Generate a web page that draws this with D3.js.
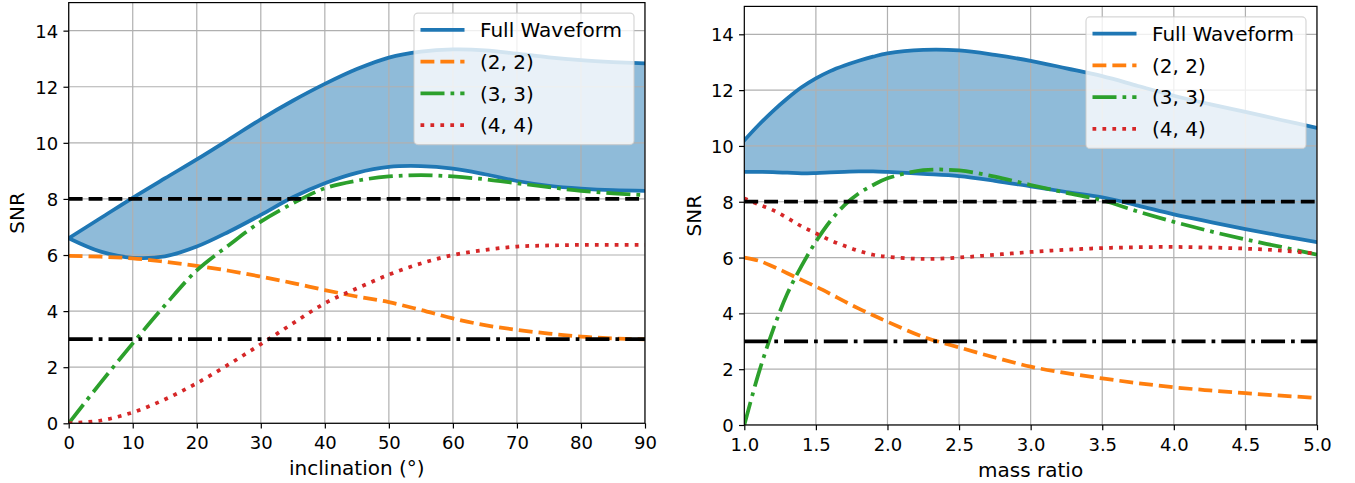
<!DOCTYPE html>
<html>
<head>
<meta charset="utf-8">
<script src="https://cdn.jsdelivr.net/npm/d3@7"></script>
<style>
  html, body { margin: 0; padding: 0; background: #ffffff; }
  svg { display: block; font-family: "DejaVu Sans", sans-serif; }
</style>
</head>
<body>
<svg id="chart" width="1355" height="483"></svg>
<script>
// ---- SNR vs inclination (left panel) ----
const inclination = [0, 5, 10, 15, 20, 25, 30, 35, 40, 45, 50, 55, 60, 65, 70, 75, 80, 85, 90];
const incFullUpper = [6.6, 7.32, 8.04, 8.73, 9.41, 10.12, 10.84, 11.5, 12.1, 12.63, 13.04, 13.25, 13.33, 13.3, 13.18, 13.05, 12.95, 12.88, 12.83];
const incFullLower = [6.6, 6.12, 5.9, 5.95, 6.3, 6.83, 7.43, 8.06, 8.56, 8.93, 9.14, 9.17, 9.08, 8.88, 8.64, 8.47, 8.37, 8.31, 8.29];
const incMode22 = [5.97, 5.94, 5.88, 5.76, 5.61, 5.44, 5.23, 5.0, 4.75, 4.52, 4.32, 4.04, 3.74, 3.5, 3.33, 3.2, 3.09, 3.03, 2.99];
const incMode33 = [0, 1.45, 2.85, 4.2, 5.45, 6.35, 7.19, 7.84, 8.38, 8.65, 8.8, 8.85, 8.8, 8.7, 8.56, 8.42, 8.29, 8.2, 8.14];
const incMode44 = [0, 0.1, 0.39, 0.85, 1.43, 2.1, 2.82, 3.56, 4.28, 4.81, 5.3, 5.7, 6.0, 6.18, 6.3, 6.34, 6.36, 6.36, 6.36];

// ---- SNR vs mass ratio (right panel) ----
const massRatio = [1.0, 1.1, 1.2, 1.3, 1.4, 1.5, 1.6, 1.7, 1.8, 1.9, 2.0, 2.25, 2.5, 2.75, 3.0, 3.25, 3.5, 3.75, 4.0, 4.25, 4.5, 4.75, 5.0];
const mrFullUpper = [10.2, 10.75, 11.25, 11.7, 12.1, 12.42, 12.68, 12.88, 13.05, 13.2, 13.32, 13.44, 13.42, 13.26, 13.05, 12.78, 12.5, 12.15, 11.8, 11.5, 11.22, 10.93, 10.65];
const mrFullLower = [9.07, 9.07, 9.06, 9.04, 9.02, 9.03, 9.05, 9.07, 9.09, 9.09, 9.07, 9.0, 8.92, 8.75, 8.55, 8.35, 8.16, 7.86, 7.55, 7.28, 7.02, 6.78, 6.55];
const mrMode22 = [6.0, 5.89, 5.68, 5.44, 5.2, 4.96, 4.7, 4.43, 4.17, 3.93, 3.7, 3.16, 2.78, 2.42, 2.09, 1.86, 1.67, 1.5, 1.35, 1.24, 1.14, 1.05, 0.97];
const mrMode33 = [0, 1.85, 3.4, 4.7, 5.7, 6.57, 7.3, 7.88, 8.3, 8.6, 8.84, 9.13, 9.12, 8.9, 8.6, 8.32, 8.05, 7.65, 7.28, 6.95, 6.65, 6.38, 6.1];
const mrMode44 = [8.12, 7.9, 7.7, 7.42, 7.12, 6.87, 6.62, 6.42, 6.24, 6.1, 6.03, 5.95, 6.0, 6.1, 6.2, 6.28, 6.34, 6.37, 6.38, 6.36, 6.32, 6.25, 6.14];

// ---- shared ----
const seriesNames = ["Full Waveform", "(2, 2)", "(3, 3)", "(4, 4)"];
const thresholds = [8, 3];
const snrTicks = [0, 2, 4, 6, 8, 10, 12, 14];
const inclinationTicks = [0, 10, 20, 30, 40, 50, 60, 70, 80, 90];
const massRatioTicks = [1.0, 1.5, 2.0, 2.5, 3.0, 3.5, 4.0, 4.5, 5.0];

const LW = 3.75;
const styles = {
  full: { color: "#1f77b4", dash: null },
  m22: { color: "#ff7f0e", dash: [3.7 * LW, 1.6 * LW] },
  m33: { color: "#2ca02c", dash: [6.4 * LW, 1.6 * LW, 1 * LW, 1.6 * LW] },
  m44: { color: "#d62728", dash: [1 * LW, 1.65 * LW] }
};
const smooth = d3.curveCatmullRom.alpha(0.5);

const svg = d3.select("#chart");

function drawPanel(cfg, idx) {
  const x = d3.scaleLinear().domain(cfg.xDomain).range([cfg.left, cfg.right]);
  const y = d3.scaleLinear().domain([0, 15]).range([cfg.bottom, cfg.top]);
  const g = svg.append("g");

  const clipId = "clip" + idx;
  svg.append("clipPath").attr("id", clipId)
    .append("rect")
    .attr("x", cfg.left).attr("y", cfg.top)
    .attr("width", cfg.right - cfg.left).attr("height", cfg.bottom - cfg.top);

  const plot = g.append("g").attr("clip-path", `url(#${clipId})`);

  // fill between the two full-waveform curves
  const pts = cfg.xs.map((v, i) => ({ x: v, lo: cfg.lower[i], hi: cfg.upper[i] }));
  const area = d3.area().curve(smooth)
    .x(d => x(d.x)).y0(d => y(d.lo)).y1(d => y(d.hi));
  plot.append("path").datum(pts).attr("d", area)
    .attr("fill", "#1f77b4").attr("fill-opacity", 0.5).attr("stroke", "none");

  // grid
  plot.selectAll(".gx").data(cfg.xTicks).enter().append("line")
    .attr("x1", d => x(d)).attr("x2", d => x(d))
    .attr("y1", cfg.top).attr("y2", cfg.bottom)
    .attr("stroke", "#b0b0b0").attr("stroke-width", 1.2);
  plot.selectAll(".gy").data(snrTicks).enter().append("line")
    .attr("x1", cfg.left).attr("x2", cfg.right)
    .attr("y1", d => y(d)).attr("y2", d => y(d))
    .attr("stroke", "#b0b0b0").attr("stroke-width", 1.2);

  const line = d3.line().curve(smooth).x(d => x(d[0])).y(d => y(d[1]));
  function drawSeries(vals, st) {
    const p = plot.append("path")
      .datum(cfg.xs.map((v, i) => [v, vals[i]]))
      .attr("d", line)
      .attr("fill", "none")
      .attr("stroke", st.color)
      .attr("stroke-width", LW)
      .attr("stroke-linejoin", "round");
    if (st.dash) p.attr("stroke-dasharray", st.dash.join(",")).attr("stroke-linecap", "butt");
    else p.attr("stroke-linecap", "square");
  }
  drawSeries(cfg.upper, styles.full);
  drawSeries(cfg.lower, styles.full);
  drawSeries(cfg.m22, styles.m22);
  drawSeries(cfg.m33, styles.m33);
  drawSeries(cfg.m44, styles.m44);

  // detection thresholds
  plot.append("line")
    .attr("x1", cfg.left).attr("x2", cfg.right)
    .attr("y1", y(thresholds[0])).attr("y2", y(thresholds[0]))
    .attr("stroke", "#000").attr("stroke-width", LW)
    .attr("stroke-dasharray", [3.7 * LW, 1.6 * LW].join(","));
  plot.append("line")
    .attr("x1", cfg.left).attr("x2", cfg.right)
    .attr("y1", y(thresholds[1])).attr("y2", y(thresholds[1]))
    .attr("stroke", "#000").attr("stroke-width", LW)
    .attr("stroke-dasharray", [6.4 * LW, 1.6 * LW, 1 * LW, 1.6 * LW].join(","));

  // axes
  const xAxis = d3.axisBottom(x).tickValues(cfg.xTicks).tickFormat(cfg.xFormat)
    .tickSizeInner(5.25).tickSizeOuter(0).tickPadding(5.25);
  const yAxis = d3.axisLeft(y).tickValues(snrTicks).tickFormat(d3.format("d"))
    .tickSizeInner(5.25).tickSizeOuter(0).tickPadding(5.25);
  const gx = g.append("g").attr("transform", `translate(0,${cfg.bottom})`).call(xAxis);
  const gy = g.append("g").attr("transform", `translate(${cfg.left},0)`).call(yAxis);
  [gx, gy].forEach(a => {
    a.select(".domain").remove();
    a.selectAll(".tick line").attr("stroke", "#000").attr("stroke-width", 1.2);
    a.selectAll(".tick text").attr("fill", "#000")
      .style("font-family", "DejaVu Sans").style("font-size", "18px");
  });
  gx.selectAll(".tick text").attr("dy", null).attr("y", 25.5);
  gy.selectAll(".tick text").attr("dy", "0.36em");

  // spines
  g.append("rect")
    .attr("x", cfg.left).attr("y", cfg.top)
    .attr("width", cfg.right - cfg.left).attr("height", cfg.bottom - cfg.top)
    .attr("fill", "none").attr("stroke", "#000").attr("stroke-width", 1.2);

  // labels
  g.append("text")
    .attr("x", (cfg.left + cfg.right) / 2).attr("y", cfg.bottom + 52)
    .attr("text-anchor", "middle").attr("font-size", 20).attr("fill", "#000")
    .text(cfg.xLabel);
  g.append("text")
    .attr("transform", `translate(${cfg.yLabelX},${(cfg.top + cfg.bottom) / 2}) rotate(-90)`)
    .attr("text-anchor", "middle").attr("font-size", 20).attr("fill", "#000")
    .text("SNR");

  // legend
  const lw = 220, lh = 131.5;
  const lx = cfg.right - 11 - lw, ly = cfg.top + 10.5;
  const leg = g.append("g");
  leg.append("rect")
    .attr("x", lx).attr("y", ly).attr("width", lw).attr("height", lh)
    .attr("rx", 4).attr("ry", 4)
    .attr("fill", "#ffffff").attr("fill-opacity", 0.8)
    .attr("stroke", "#cccccc").attr("stroke-opacity", 0.8).attr("stroke-width", 1.2);
  const legStyles = [styles.full, styles.m22, styles.m33, styles.m44];
  seriesNames.forEach((name, i) => {
    const cy = ly + 16.8 + i * 31.7;
    const st = legStyles[i];
    const h = leg.append("line")
      .attr("x1", lx + 6.5).attr("x2", lx + 50.5)
      .attr("y1", cy).attr("y2", cy)
      .attr("stroke", st.color).attr("stroke-width", LW);
    if (st.dash) h.attr("stroke-dasharray", st.dash.join(","));
    leg.append("text")
      .attr("x", lx + 66).attr("y", cy).attr("dy", "0.36em")
      .attr("font-size", 20).attr("fill", "#000")
      .text(name);
  });
}

drawPanel({
  xs: inclination, upper: incFullUpper, lower: incFullLower,
  m22: incMode22, m33: incMode33, m44: incMode44,
  xDomain: [0, 90], xTicks: inclinationTicks, xFormat: d3.format("d"),
  xLabel: "inclination (°)",
  left: 68.7, right: 645, top: 2.6, bottom: 423.3, yLabelX: 24
}, 0);

drawPanel({
  xs: massRatio, upper: mrFullUpper, lower: mrFullLower,
  m22: mrMode22, m33: mrMode33, m44: mrMode44,
  xDomain: [1, 5], xTicks: massRatioTicks, xFormat: d3.format(".1f"),
  xLabel: "mass ratio",
  left: 744.3, right: 1317, top: 6.4, bottom: 425, yLabelX: 700.5
}, 1);
</script>
</body>
</html>
